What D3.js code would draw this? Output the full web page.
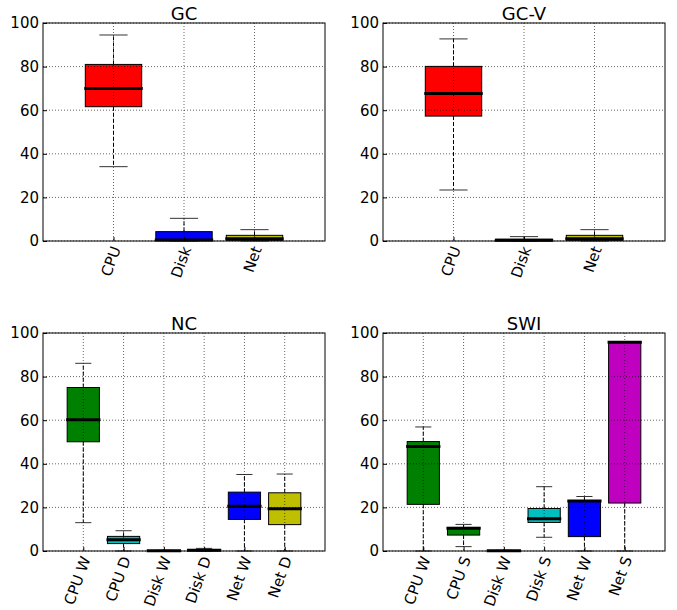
<!DOCTYPE html>
<html>
<head>
<meta charset="utf-8">
<script src="https://cdn.jsdelivr.net/npm/d3@7"></script>
<style>
  body { margin: 0; background: #fff; }
  text { font-family: "DejaVu Sans", sans-serif; fill: #000; }
</style>
</head>
<body>
<div id="chart"></div>
<script>
// panel titles
const titles = ["GC", "GC-V", "NC", "SWI"];

// categories per panel
const catsGC = ["CPU", "Disk", "Net"];
const catsGCV = ["CPU", "Disk", "Net"];
const catsNC = ["CPU W", "CPU D", "Disk W", "Disk D", "Net W", "Net D"];
const catsSWI = ["CPU W", "CPU S", "Disk W", "Disk S", "Net W", "Net S"];

// box colours per panel
const colorsGC = ["#ff0000", "#0000ff", "#bfbf00"];
const colorsGCV = ["#ff0000", "#0000ff", "#bfbf00"];
const colorsNC = ["#008000", "#00bfbf", "#0000ff", "#0000ff", "#0000ff", "#bfbf00"];
const colorsSWI = ["#008000", "#008000", "#0000ff", "#00bfbf", "#0000ff", "#bf00bf"];

// box stats: [whisker low, q1, median, q3, whisker high]
const statsGC = [
  [34.1, 61.6, 70.0, 81.0, 94.5],
  [0, 0.2, 0.5, 4.3, 10.4],
  [0, 0.3, 1.0, 2.6, 5.2]
];
const statsGCV = [
  [23.4, 57.3, 67.7, 80.1, 92.7],
  [0, 0.1, 0.4, 0.8, 2.0],
  [0, 0.3, 1.0, 2.6, 5.2]
];
const statsNC = [
  [13.0, 50.1, 60.2, 75.0, 86.1],
  [0, 3.4, 5.2, 6.7, 9.3],
  [0, 0.05, 0.1, 0.2, 0.3],
  [0, 0.1, 0.3, 0.5, 1.2],
  [0, 14.5, 20.5, 27.0, 35.1],
  [0, 12.1, 19.4, 26.7, 35.3]
];
const statsSWI = [
  [0, 21.4, 47.9, 50.2, 56.9],
  [2.0, 7.3, 10.4, 10.8, 12.2],
  [0, 0.05, 0.1, 0.2, 0.3],
  [6.3, 13.1, 14.8, 19.5, 29.5],
  [0, 6.6, 22.9, 22.9, 25.0],
  [0, 22.0, 95.7, 95.7, 95.7]
];

const yTicks = [0, 20, 40, 60, 80, 100];

const panels = [
  { title: titles[0], cats: catsGC, colors: colorsGC, stats: statsGC, left: 43, top: 23 },
  { title: titles[1], cats: catsGCV, colors: colorsGCV, stats: statsGCV, left: 383, top: 23 },
  { title: titles[2], cats: catsNC, colors: colorsNC, stats: statsNC, left: 43, top: 333 },
  { title: titles[3], cats: catsSWI, colors: colorsSWI, stats: statsSWI, left: 383, top: 333 }
];

const W = 677, H = 610;
const pw = 282, ph = 218;

const svg = d3.select("#chart").append("svg")
  .attr("width", W).attr("height", H);

panels.forEach(p => {
  const g = svg.append("g").attr("transform", `translate(${p.left},${p.top})`);
  const n = p.cats.length;

  // positions 1..n, xlim 0..n+1 (like matplotlib boxplot)
  const x = d3.scaleLinear().domain([0, n + 1]).range([0, pw]);
  const y = d3.scaleLinear().domain([0, 100]).range([ph, 0]);
  const unit = x(1) - x(0);
  const boxW = 0.8 * unit, capW = 0.4 * unit;

  p.stats.forEach((s, i) => {
    const cx = x(i + 1);
    const [lo, q1, med, q3, hi] = s;
    // whiskers
    g.append("line").attr("x1", cx).attr("x2", cx).attr("y1", y(q3)).attr("y2", y(hi))
      .attr("stroke", "#000").attr("stroke-width", 1).attr("stroke-dasharray", "4,2");
    g.append("line").attr("x1", cx).attr("x2", cx).attr("y1", y(q1)).attr("y2", y(lo))
      .attr("stroke", "#000").attr("stroke-width", 1).attr("stroke-dasharray", "4,2");
    // caps
    [lo, hi].forEach(v => {
      g.append("line").attr("x1", cx - capW / 2).attr("x2", cx + capW / 2)
        .attr("y1", y(v)).attr("y2", y(v))
        .attr("stroke", "#333").attr("stroke-width", 1);
    });
    // box
    g.append("rect").attr("x", cx - boxW / 2).attr("width", boxW)
      .attr("y", y(q3)).attr("height", Math.max(0, y(q1) - y(q3)))
      .attr("fill", p.colors[i]).attr("stroke", "#000").attr("stroke-width", 1);
    // median
    g.append("line").attr("x1", cx - boxW / 2 - 1).attr("x2", cx + boxW / 2 + 1)
      .attr("y1", y(med)).attr("y2", y(med))
      .attr("stroke", "#000").attr("stroke-width", 3);
  });

  // grid on top (classic style)
  const grid = g.append("g");
  yTicks.forEach(t => {
    grid.append("line").attr("x1", 0).attr("x2", pw).attr("y1", y(t)).attr("y2", y(t))
      .attr("stroke", "#000").attr("stroke-width", 0.6).attr("stroke-dasharray", "1,2");
  });
  p.cats.forEach((c, i) => {
    grid.append("line").attr("x1", x(i + 1)).attr("x2", x(i + 1)).attr("y1", 0).attr("y2", ph)
      .attr("stroke", "#000").attr("stroke-width", 0.6).attr("stroke-dasharray", "1,2");
  });

  // y axis
  const ya = g.append("g").call(d3.axisLeft(y).tickValues(yTicks).tickSize(-4).tickPadding(4));
  ya.select(".domain").remove();
  ya.selectAll("text").style("font-size", "15px").style("font-family", "DejaVu Sans");
  ya.selectAll("line").attr("stroke", "#000");

  // x axis
  const xa = g.append("g").attr("transform", `translate(0,${ph})`)
    .call(d3.axisBottom(x).tickValues(p.cats.map((c, i) => i + 1))
      .tickFormat((d, i) => p.cats[i]).tickSize(-4).tickPadding(6));
  xa.select(".domain").remove();
  xa.selectAll("line").attr("stroke", "#000");
  xa.selectAll("text")
    .style("font-size", "15px").style("font-family", "DejaVu Sans")
    .attr("text-anchor", "end")
    .attr("dy", "0.35em")
    .attr("transform", "translate(2,6) rotate(-70)")
    .attr("x", 0).attr("y", 0);

  // frame
  g.append("rect").attr("x", 0).attr("y", 0).attr("width", pw).attr("height", ph)
    .attr("fill", "none").attr("stroke", "#000").attr("stroke-width", 1);

  // title
  g.append("text").attr("x", pw / 2).attr("y", -3)
    .attr("text-anchor", "middle").style("font-size", "18px")
    .text(p.title);
});
</script>
</body>
</html>
